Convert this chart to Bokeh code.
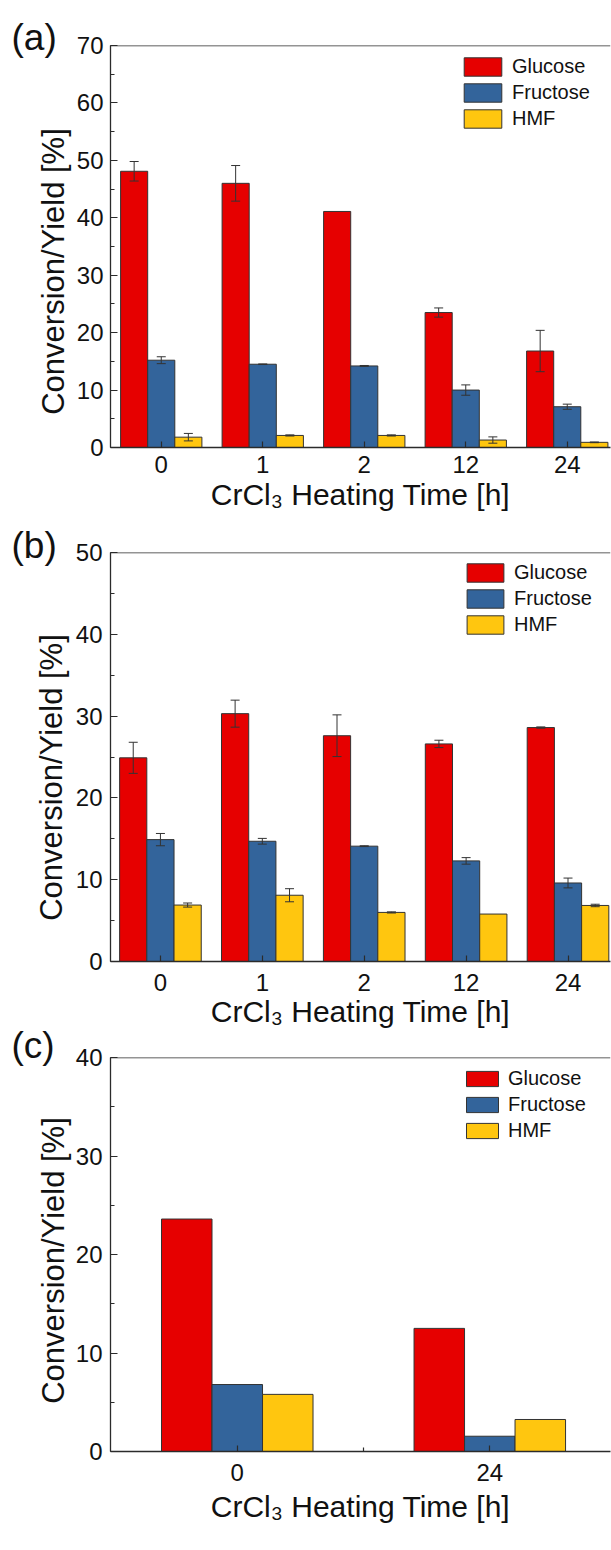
import math
from bokeh.plotting import figure
from bokeh.models import (ColumnDataSource, Range1d, FixedTicker, SingleIntervalTicker,
                          Whisker, TeeHead, Label, Span, Legend, LegendItem)
from bokeh.layouts import column, row
from bokeh.embed import file_html
from bokeh.resources import INLINE

# ---------------- data ----------------
series = ["Glucose", "Fructose", "HMF"]
colors = ["#E60000", "#33649B", "#FFC60F"]

a_times = ["0", "1", "2", "12", "24"]
a_glucose = [48.1, 46.0, 41.1, 23.5, 16.8]
a_glucose_err = [1.7, 3.1, 0.0, 0.8, 3.6]
a_fructose = [15.2, 14.5, 14.2, 10.0, 7.1]
a_fructose_err = [0.6, 0.05, 0.08, 0.9, 0.45]
a_hmf = [1.8, 2.1, 2.1, 1.3, 0.9]
a_hmf_err = [0.65, 0.1, 0.1, 0.55, 0.06]

b_times = ["0", "1", "2", "12", "24"]
b_glucose = [24.9, 30.3, 27.6, 26.6, 28.6]
b_glucose_err = [1.9, 1.65, 2.55, 0.45, 0.08]
b_fructose = [14.9, 14.7, 14.1, 12.3, 9.6]
b_fructose_err = [0.75, 0.35, 0.05, 0.4, 0.6]
b_hmf = [6.9, 8.1, 6.0, 5.8, 6.85]
b_hmf_err = [0.25, 0.8, 0.07, 0.0, 0.15]

c_times = ["0", "24"]
c_glucose = [23.6, 12.5]
c_fructose = [6.8, 1.55]
c_hmf = [5.8, 3.25]

panel_letters = ["(a)", "(b)", "(c)"]
y_title = "Conversion/Yield [%]"
x_title = "CrCl\u2083 Heating Time [h]"

FONT = "Liberation Sans"
AX = "#2b2b2b"
TXT = "#111111"
STRIP_W = 72
MAIN_W = 611 - STRIP_W
TOTAL_H = 1550


def make_panel(times, values, errs, ymax, height, frame_left, top, bottom,
               x_start, x_end, bar_w, offsets, minor_x, legend_xy, glyph_wh,
               tick_standoff_x, tick_standoff_y, title_standoff):
    frame_h = height - top - bottom
    p = figure(width=MAIN_W, height=height, output_backend="svg", toolbar_location=None,
               x_range=Range1d(x_start, x_end), y_range=Range1d(0, ymax),
               min_border_left=frame_left - STRIP_W, min_border_right=1,
               min_border_top=top, min_border_bottom=bottom)
    p.outline_line_color = None
    p.grid.visible = False
    p.background_fill_color = "white"
    p.border_fill_color = "white"

    idx = list(range(len(times)))
    renderers = []
    for k, (name, col) in enumerate(zip(series, colors)):
        xs = [i + offsets[k] for i in idx]
        src = ColumnDataSource(dict(x=xs, top=values[k]))
        r = p.vbar(x="x", top="top", width=bar_w, source=src, fill_color=col,
                   line_color="#333333", line_width=1)
        renderers.append(r)
        if errs is not None:
            ex, up, lo = [], [], []
            for i in idx:
                e = errs[k][i]
                if e > 0:
                    ex.append(xs[i])
                    up.append(values[k][i] + e)
                    lo.append(values[k][i] - e)
            if ex:
                es = ColumnDataSource(dict(base=ex, upper=up, lower=lo))
                w = Whisker(base="base", upper="upper", lower="lower", source=es,
                            dimension="height", line_color="#333333", line_width=1,
                            upper_head=TeeHead(size=9, line_color="#333333", line_width=1),
                            lower_head=TeeHead(size=9, line_color="#333333", line_width=1),
                            level="annotation")
                p.add_layout(w)

    # top border
    p.add_layout(Span(location=ymax, dimension="width", line_color=AX, line_width=1.3))

    # axes
    xa = p.xaxis[0]
    xa.ticker = FixedTicker(ticks=idx, minor_ticks=minor_x)
    xa.major_label_overrides = {i: t for i, t in zip(idx, times)}
    ya = p.yaxis[0]
    ya.ticker = SingleIntervalTicker(interval=10, num_minor_ticks=2)
    for ax in (xa, ya):
        ax.axis_line_color = AX
        ax.axis_line_width = 1.3
        ax.major_tick_line_color = AX
        ax.minor_tick_line_color = AX
        ax.major_tick_line_width = 1.2
        ax.minor_tick_line_width = 1.2
        ax.major_tick_out = 0
        ax.minor_tick_out = 0
        ax.major_label_text_font = FONT
        ax.major_label_text_font_size = "24px"
        ax.major_label_text_color = TXT
    xa.major_tick_in = 6
    xa.minor_tick_in = 4
    ya.major_tick_in = 7
    ya.minor_tick_in = 4
    xa.major_label_standoff = tick_standoff_x
    ya.major_label_standoff = tick_standoff_y
    xa.axis_label = x_title
    xa.axis_label_text_font = FONT
    xa.axis_label_text_font_size = "30px"
    xa.axis_label_text_font_style = "normal"
    xa.axis_label_text_color = TXT
    xa.axis_label_standoff = title_standoff

    # legend
    gw, gh = glyph_wh
    item_h = 23
    spacing = 3
    leg_h = 3 * item_h + 2 * spacing
    lx, ltop = legend_xy
    legend = Legend(items=[LegendItem(label=s, renderers=[r]) for s, r in zip(series, renderers)],
                    location=(lx, frame_h - ltop - leg_h),
                    glyph_width=gw, glyph_height=gh, label_height=item_h,
                    spacing=spacing, padding=0, margin=0, label_standoff=6,
                    label_text_font=FONT, label_text_font_size="20px",
                    label_text_color=TXT,
                    border_line_color=None, background_fill_alpha=0)
    p.add_layout(legend)
    return p


pa = make_panel(a_times, [a_glucose, a_fructose, a_hmf],
                [a_glucose_err, a_fructose_err, a_hmf_err],
                70, height=519, frame_left=110, top=45, bottom=72,
                x_start=-0.5, x_end=4.426, bar_w=0.267, offsets=[-0.267, 0, 0.267],
                minor_x=[], legend_xy=(349, 10), glyph_wh=(47, 23),
                tick_standoff_x=8, tick_standoff_y=7, title_standoff=2)

pb = make_panel(b_times, [b_glucose, b_fructose, b_hmf],
                [b_glucose_err, b_fructose_err, b_hmf_err],
                50, height=514, frame_left=107, top=33, bottom=72,
                x_start=-0.49, x_end=4.417, bar_w=0.267, offsets=[-0.267, 0, 0.267],
                minor_x=[], legend_xy=(352, 9), glyph_wh=(46, 23),
                tick_standoff_x=12, tick_standoff_y=8, title_standoff=1)

pc = make_panel(c_times, [c_glucose, c_fructose, c_hmf], None,
                40, height=517, frame_left=109, top=24, bottom=99,
                x_start=-0.502, x_end=1.478, bar_w=0.2, offsets=[-0.2, 0, 0.2],
                minor_x=[0.5], legend_xy=(352, 10), glyph_wh=(40, 19),
                tick_standoff_x=12, tick_standoff_y=8, title_standoff=6)

# left strip holding panel letters and y titles (screen-like coordinates, y downward)
strip = figure(width=STRIP_W, height=TOTAL_H, output_backend="svg", toolbar_location=None,
               x_range=Range1d(0, STRIP_W), y_range=Range1d(TOTAL_H, 0),
               x_axis_type=None, y_axis_type=None, min_border=0)
strip.min_border_left = 0
strip.min_border_right = 0
strip.min_border_top = 0
strip.min_border_bottom = 0
strip.outline_line_color = None
strip.grid.visible = False

letter_pos = [(11, 37), (11, 545), (11, 1045)]
ytitle_pos = [(53, 271), (51, 777), (53, 1260)]
for letter, (lx, ly) in zip(panel_letters, letter_pos):
    strip.add_layout(Label(x=lx, y=ly, text=letter, text_font=FONT, text_font_size="37px",
                           text_color=TXT, text_align="left", text_baseline="alphabetic"))
for (tx, ty) in ytitle_pos:
    strip.add_layout(Label(x=tx, y=ty, text=y_title, angle=math.pi / 2,
                           text_font=FONT, text_font_size="31px", text_color=TXT,
                           text_align="center", text_baseline="alphabetic"))

layout = row(strip, column(pa, pb, pc, spacing=0), spacing=0)
open("out.html", "w").write(file_html(layout, INLINE))
